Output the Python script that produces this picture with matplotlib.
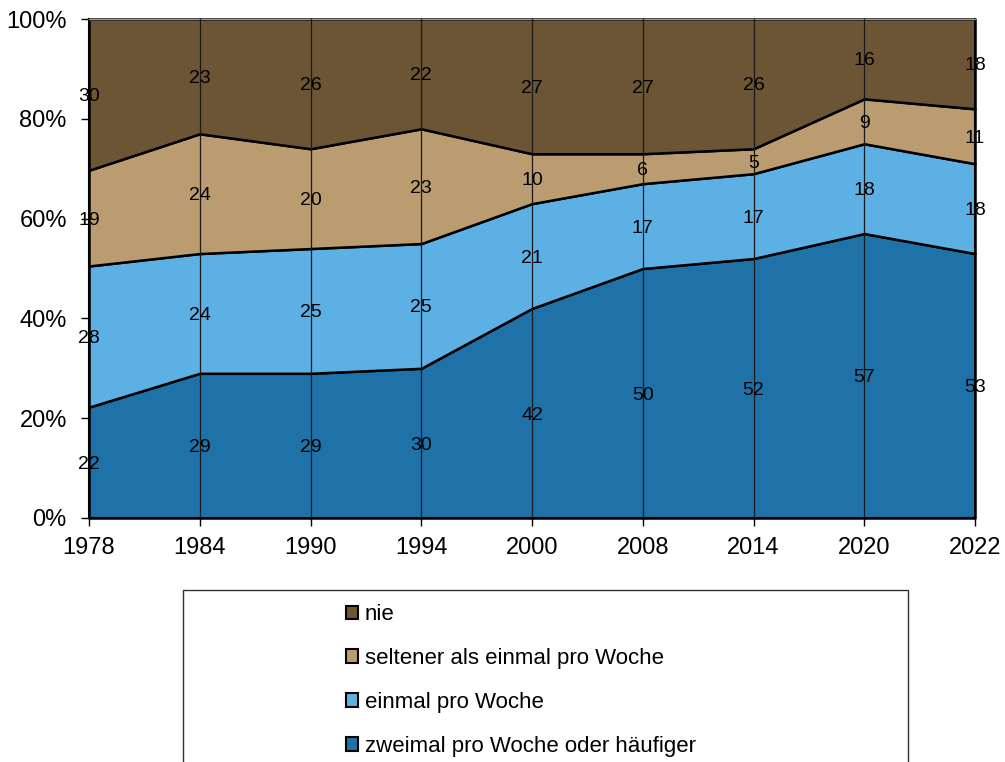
import matplotlib
matplotlib.use("Agg")
import matplotlib.pyplot as plt
from matplotlib.patches import Patch, Rectangle
import numpy as np

plt.rcParams["font.family"] = ["Liberation Sans", "DejaVu Sans"]

years = ["1978", "1984", "1990", "1994", "2000", "2008", "2014", "2020", "2022"]
zweimal = [22, 29, 29, 30, 42, 50, 52, 57, 53]
einmal = [28, 24, 25, 25, 21, 17, 17, 18, 18]
seltener = [19, 24, 20, 23, 10, 6, 5, 9, 11]
nie = [30, 23, 26, 22, 27, 27, 26, 16, 18]

series = [zweimal, einmal, seltener, nie]
names = ["zweimal pro Woche oder häufiger", "einmal pro Woche",
         "seltener als einmal pro Woche", "nie"]
colors = ["#1F72A8", "#5DB0E4", "#BA9C70", "#6B5535"]

data = np.array(series, dtype=float)
share = data / data.sum(axis=0) * 100
x = np.arange(len(years))

fig = plt.figure(figsize=(10.05, 7.62), dpi=100)
ax = fig.add_axes([89 / 1005, 1 - 518 / 762, 886 / 1005, 499 / 762])

polys = ax.stackplot(x, share, colors=colors, edgecolor="black", linewidth=1.8)
for p in polys:
    p.set_clip_on(False)

# vertical lines at every survey year
for xi in x[1:-1]:
    ax.axvline(xi, color="#1a1a1a", lw=0.9, zorder=3)

# value labels in the middle of each band
bottom = np.zeros(len(x))
for vals, sh in zip(series, share):
    mid = bottom + sh / 2
    for xi, yi, v in zip(x, mid, vals):
        ax.text(xi, yi, str(v), ha="center", va="center_baseline",
                fontsize=14, zorder=5)
    bottom += sh

ax.set_xlim(0, len(x) - 1)
ax.set_ylim(0, 100)
ax.set_xticks(x)
ax.set_xticklabels(years)
ax.set_yticks(range(0, 101, 20))
ax.set_yticklabels([f"{v}%" for v in range(0, 101, 20)])
ax.tick_params(axis="both", labelsize=17, length=6, width=1, direction="out")
ax.tick_params(axis="y", pad=10)
ax.tick_params(axis="x", pad=8)
for s in ["left", "bottom", "right"]:
    ax.spines[s].set_linewidth(1.5)
ax.spines["top"].set_color("#999999")
ax.spines["top"].set_linewidth(1)

# legend box below the plot, running off the bottom edge
fig.patches.append(Rectangle((183 / 1005, -0.05), 725 / 1005, 1 - 590 / 762 + 0.05,
                             transform=fig.transFigure, fill=False,
                             edgecolor="#333333", linewidth=1))
handles = [Patch(facecolor=c, edgecolor="black", linewidth=1.5) for c in colors]
fig.legend(handles[::-1], names[::-1], loc="upper left",
           bbox_to_anchor=(335 / 1005, 1 - 593 / 762), frameon=False,
           fontsize=16, handlelength=0.55, handleheight=0.55,
           handletextpad=0.3, labelspacing=1.03, borderpad=0)

fig.savefig("out.png", dpi=100)
